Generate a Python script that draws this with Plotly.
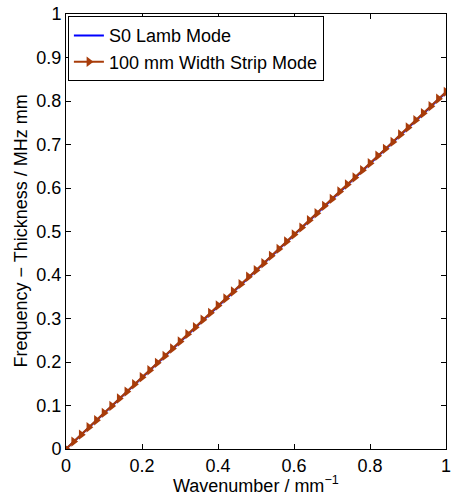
import plotly.graph_objects as go

# S0 Lamb mode
k_lamb = [0.0, 0.05, 0.1, 0.15, 0.2, 0.25, 0.3, 0.35, 0.4, 0.45, 0.5, 0.55, 0.6, 0.65, 0.7, 0.75, 0.8, 0.85, 0.9, 0.95, 1.0]
f_lamb = [0.0, 0.041, 0.082, 0.123, 0.164, 0.205, 0.246, 0.287, 0.328, 0.369, 0.410, 0.451, 0.492, 0.533, 0.574, 0.615, 0.656, 0.697, 0.738, 0.779, 0.820]

# 100 mm width strip mode
k_strip = [0.0, 0.02, 0.04, 0.06, 0.08, 0.1, 0.12, 0.14, 0.16, 0.18, 0.2, 0.22, 0.24, 0.26, 0.28, 0.3,
           0.32, 0.34, 0.36, 0.38, 0.4, 0.42, 0.44, 0.46, 0.48, 0.5, 0.52, 0.54, 0.56, 0.58, 0.6,
           0.62, 0.64, 0.66, 0.68, 0.7, 0.72, 0.74, 0.76, 0.78, 0.8, 0.82, 0.84, 0.86, 0.88, 0.9,
           0.92, 0.94, 0.96, 0.98, 1.0]
f_strip = [0.0, 0.017, 0.033, 0.050, 0.066, 0.083, 0.099, 0.116, 0.132, 0.149, 0.165, 0.181, 0.198, 0.214, 0.231, 0.247,
           0.264, 0.280, 0.297, 0.313, 0.330, 0.346, 0.362, 0.379, 0.396, 0.411, 0.427, 0.444, 0.460, 0.477, 0.493,
           0.509, 0.526, 0.542, 0.559, 0.575, 0.592, 0.608, 0.624, 0.641, 0.657, 0.674, 0.690, 0.706, 0.723, 0.739,
           0.756, 0.772, 0.788, 0.805, 0.821]

x_ticks = [0, 0.2, 0.4, 0.6, 0.8, 1]
y_ticks = [0, 0.1, 0.2, 0.3, 0.4, 0.5, 0.6, 0.7, 0.8, 0.9, 1]

FONT = "Liberation Sans, Arial, sans-serif"

fig = go.Figure()
fig.add_trace(go.Scatter(x=k_lamb, y=f_lamb, mode="lines", name="S0 Lamb Mode",
                         line=dict(color="#0000ff", width=2)))
fig.add_trace(go.Scatter(x=k_strip, y=f_strip, mode="lines+markers", name="100 mm Width Strip Mode",
                         line=dict(color="#a83c0a", width=2),
                         marker=dict(symbol="triangle-right", size=9, color="#a83c0a")))

axis_common = dict(showline=True, linecolor="black", linewidth=1, mirror="ticks",
                   ticks="inside", ticklen=5, tickcolor="black", showgrid=False, zeroline=False,
                   ticklabeloverflow="allow",
                   tickfont=dict(size=18, color="black", family=FONT))
fig.update_layout(
    width=455, height=500,
    margin=dict(l=66, r=4, t=14, b=51),
    plot_bgcolor="white", paper_bgcolor="white",
    font=dict(family=FONT, size=18, color="black"),
    showlegend=True,
    legend=dict(x=0.005, y=0.995, xanchor="left", yanchor="top",
                bgcolor="white", bordercolor="black", borderwidth=1,
                font=dict(size=18), tracegroupgap=0, itemwidth=30),
    xaxis=dict(range=[0, 1], tickvals=x_ticks, ticktext=[f"{v:g}" for v in x_ticks], **axis_common),
    yaxis=dict(range=[0, 1], tickvals=y_ticks, ticktext=[f"{v:g}" for v in y_ticks], **axis_common),
    annotations=[
        dict(text="Wavenumber / mm<sup>−1</sup>", xref="paper", yref="paper", x=0.5, y=0,
             yshift=-22, xanchor="center", yanchor="top", showarrow=False, font=dict(size=18)),
        dict(text="Frequency − Thickness / MHz mm", xref="paper", yref="paper", x=0, y=0.5,
             xshift=-46, xanchor="center", yanchor="middle", textangle=-90, showarrow=False,
             font=dict(size=18)),
    ],
)
fig.write_html("out.html", config={"displayModeBar": False},
               post_script="document.body.style.margin='0';")
